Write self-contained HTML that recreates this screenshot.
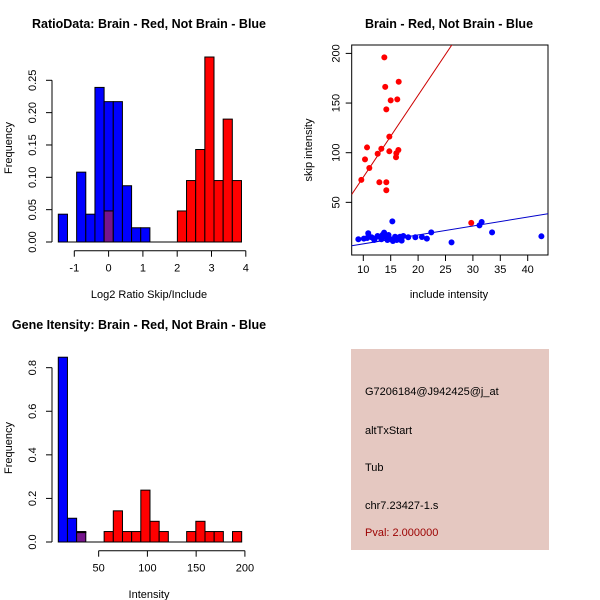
<!DOCTYPE html>
<html><head><meta charset="utf-8"><style>
body{margin:0;background:#fff}
svg{display:block;font-family:"Liberation Sans",Arial,sans-serif}
</style></head><body>
<svg id="svg" width="600" height="600" viewBox="0 0 600 600">
<g id="p1"></g>
<g id="p2"></g>
<g id="p3"></g>
<g id="p4">
<rect x="351" y="349" width="198" height="201" fill="#e5c8c1"/>
<text x="365" y="395" font-size="11">G7206184@J942425@j_at</text>
<text x="365" y="434" font-size="11">altTxStart</text>
<text x="365" y="471" font-size="11">Tub</text>
<text x="365" y="509" font-size="11">chr7.23427-1.s</text>
<text x="365" y="536" font-size="11" fill="#9b0000">Pval: 2.000000</text>
</g>
</svg>
<script>
// Panel 1 data
const ratioBinStart = -1.466, ratioBinWidth = 0.267;
const ratioBlue = [0.043,0,0.108,0.043,0.239,0.217,0.217,0.087,0.022,0.022,0,0,0,0,0,0,0,0,0,0];
const ratioRed  = [0,0,0,0,0,0.048,0,0,0,0,0,0,0,0.048,0.095,0.143,0.286,0.095,0.19,0.095];
const ratioYTicks = [0,0.05,0.10,0.15,0.20,0.25];
const ratioYLabels = ["0.00","0.05","0.10","0.15","0.20","0.25"];
const ratioXTicks = [-1,0,1,2,3,4];
// Panel 2 data
const redX = [13.84,14.0,16.46,15.0,16.2,14.2,14.75,10.68,10.31,13.29,12.62,14.75,16.4,16.03,15.97,11.1,9.64,12.93,14.2,14.2,29.7];
const redY = [196,166.3,171.5,152.7,153.7,143.6,116.2,105.3,93.3,104,99,101.4,102.7,99.4,95.4,84.6,72.6,70.3,70.3,62.2,29.3];
const blueX = [9.1,10.1,10.9,11.5,12.1,12.6,13.05,13.5,13.8,14.1,14.6,14.9,15.3,15.4,15.8,16.1,16.5,17.0,17.3,10.7,12.0,13.3,14.4,16.7,18.2,19.5,20.7,21.6,22.4,26.1,31.2,31.6,33.5,42.5];
const blueY = [12.8,13.5,18.9,14.8,13.5,16.1,15.4,17.1,19.5,14.8,17.1,13.1,30.9,11.1,15.4,12.1,13.8,11.4,16.1,14.1,12.1,12.8,12.1,15.4,14.8,14.8,15.1,13.5,19.8,9.7,26.8,30.2,19.8,15.8];
const redFit = [-7, 8.24];   // intercept, slope
const blueFit = [-0.8, 0.9];
const scatXTicks = [10,15,20,25,30,35,40];
const scatYTicks = [50,100,150,200];
// Panel 3 data
const intBinStart = 8.6, intBinWidth = 9.405;
const intBlue = [0.848,0.109,0.043,0,0,0,0,0,0,0,0,0,0,0,0,0,0,0,0,0];
const intRed  = [0,0,0.048,0,0,0.048,0.143,0.048,0.048,0.238,0.095,0.048,0,0,0.048,0.095,0.048,0.048,0,0.048];
const intYTicks = [0,0.2,0.4,0.6,0.8];
const intYLabels = ["0.0","0.2","0.4","0.6","0.8"];
const intXTicks = [50,100,150,200];

const NS="http://www.w3.org/2000/svg";
function mk(parent,tag,attrs,text){const e=document.createElementNS(NS,tag);for(const k in attrs)e.setAttribute(k,attrs[k]);if(text!==undefined)e.textContent=text;parent.appendChild(e);return e;}

function histogram(g,o){
  const sx=v=>o.x0+v*o.kx, sy=v=>o.y0-v*o.ky;
  for(let i=0;i<o.blue.length;i++){
    const a=o.start+i*o.width,b=a+o.width,bl=o.blue[i],rd=o.red[i];
    const ov=Math.min(bl,rd);
    if(bl>ov){const r=mk(g,'rect',{x:sx(a),y:sy(bl),width:sx(b)-sx(a),height:sy(ov)-sy(bl),fill:'#0000ff',stroke:'#000','stroke-width':1});
      }
    if(rd>ov){const r=mk(g,'rect',{x:sx(a),y:sy(rd),width:sx(b)-sx(a),height:sy(ov)-sy(rd),fill:'#ff0000',stroke:'#000','stroke-width':1});
      }
    if(ov>0){const r=mk(g,'rect',{x:sx(a),y:sy(ov),width:sx(b)-sx(a),height:sy(0)-sy(ov),fill:'#76158c',stroke:'#000','stroke-width':1});
      }
  }
  const base=mk(g,'line',{x1:sx(o.start),x2:sx(o.start+o.width*o.blue.length),y1:sy(0),y2:sy(0),stroke:'#000'});
  
  const ya=mk(g,'g',{});
  const yt=o.yTicks;
  mk(ya,'line',{x1:o.ax,x2:o.ax,y1:sy(yt[0]),y2:sy(yt[yt.length-1]),stroke:'#000'});
  yt.forEach((t,i)=>{mk(ya,'line',{x1:o.ax-6,x2:o.ax,y1:sy(t),y2:sy(t),stroke:'#000'});
    const lx=o.ax-16;
    const tx=mk(ya,'text',{x:lx,y:sy(t),'font-size':11,'text-anchor':'middle',transform:`rotate(-90 ${lx} ${sy(t)})`},o.yLabels[i]);
    });
  const xa=mk(g,'g',{});
  const xt=o.xTicks, ay=o.ay;
  mk(xa,'line',{x1:sx(xt[0]),x2:sx(xt[xt.length-1]),y1:ay,y2:ay,stroke:'#000'});
  xt.forEach(t=>{mk(xa,'line',{x1:sx(t),x2:sx(t),y1:ay,y2:ay+6,stroke:'#000'});
    const tx=mk(xa,'text',{x:sx(t),y:ay+21,'font-size':11,'text-anchor':'middle'},String(t));
    });
}

// Panel 1
const p1=document.getElementById('p1');
histogram(p1,{x0:108.6,kx:34.3,y0:242,ky:646.8,start:ratioBinStart,width:ratioBinWidth,blue:ratioBlue,red:ratioRed,yTicks:ratioYTicks,yLabels:ratioYLabels,xTicks:ratioXTicks,ax:52,ay:250.7});
{const t=mk(p1,'text',{x:149,y:28,'font-size':12.5,'font-weight':'bold','text-anchor':'middle'},'RatioData: Brain - Red, Not Brain - Blue');
 const xl=mk(p1,'text',{x:149,y:298,'font-size':11,'text-anchor':'middle'},'Log2 Ratio Skip/Include');
 const yl=mk(p1,'text',{x:12,y:148,'font-size':11,'text-anchor':'middle',transform:'rotate(-90 12 148)'},'Frequency');}

// Panel 3
const p3=document.getElementById('p3');
histogram(p3,{x0:49.9,kx:0.975,y0:542,ky:217.9,start:intBinStart,width:intBinWidth,blue:intBlue,red:intRed,yTicks:intYTicks,yLabels:intYLabels,xTicks:intXTicks,ax:52,ay:550.7});
{const t=mk(p3,'text',{x:139,y:329,'font-size':12.5,'font-weight':'bold','text-anchor':'middle'},'Gene Itensity: Brain - Red, Not Brain - Blue');
 const xl=mk(p3,'text',{x:149,y:598,'font-size':11,'text-anchor':'middle'},'Intensity');
 const yl=mk(p3,'text',{x:12,y:448,'font-size':11,'text-anchor':'middle',transform:'rotate(-90 12 448)'},'Frequency');}

// Panel 2
const p2=document.getElementById('p2');
const L=351.7,R=548,T=45,B=255;
const sx=v=>308.5+v*5.48, sy=v=>252-v*0.993;
const cp=mk(p2,'clipPath',{id:'clip2'});mk(cp,'rect',{x:L,y:T,width:R-L,height:B-T});
const frame=mk(p2,'rect',{x:L,y:T,width:R-L,height:B-T,fill:'none',stroke:'#000'});

const xmin=(L-308.5)/5.48, xmax=(R-308.5)/5.48;
[[redFit,'#cc0000','red-fit-line'],[blueFit,'#0000cc','blue-fit-line']].forEach(([f,c,n])=>{
  const l=mk(p2,'line',{x1:sx(xmin),y1:sy(f[0]+f[1]*xmin),x2:sx(xmax),y2:sy(f[0]+f[1]*xmax),stroke:c,'clip-path':'url(#clip2)'});
  });
blueX.forEach((x,i)=>{const c=mk(p2,'circle',{cx:sx(x),cy:sy(blueY[i]),r:3,fill:'#0000ff'});
  });
redX.forEach((x,i)=>{const c=mk(p2,'circle',{cx:sx(x),cy:sy(redY[i]),r:3,fill:'#ff0000'});
  });
scatXTicks.forEach(t=>{mk(p2,'line',{x1:sx(t),x2:sx(t),y1:B,y2:B+6,stroke:'#000'});
  const tx=mk(p2,'text',{x:sx(t),y:B+18,'font-size':11,'text-anchor':'middle'},String(t));
  });
scatYTicks.forEach(t=>{mk(p2,'line',{x1:L-6,x2:L,y1:sy(t),y2:sy(t),stroke:'#000'});
  const lx=L-12;
  const tx=mk(p2,'text',{x:lx,y:sy(t),'font-size':11,'text-anchor':'middle',transform:`rotate(-90 ${lx} ${sy(t)})`},String(t));
  });
{const t=mk(p2,'text',{x:449,y:28,'font-size':12.5,'font-weight':'bold','text-anchor':'middle'},'Brain - Red, Not Brain - Blue');
 const xl=mk(p2,'text',{x:449,y:298,'font-size':11,'text-anchor':'middle'},'include intensity');
 const yl=mk(p2,'text',{x:312,y:150,'font-size':11,'text-anchor':'middle',transform:'rotate(-90 312 150)'},'skip intensity');}
</script>
</body></html>
